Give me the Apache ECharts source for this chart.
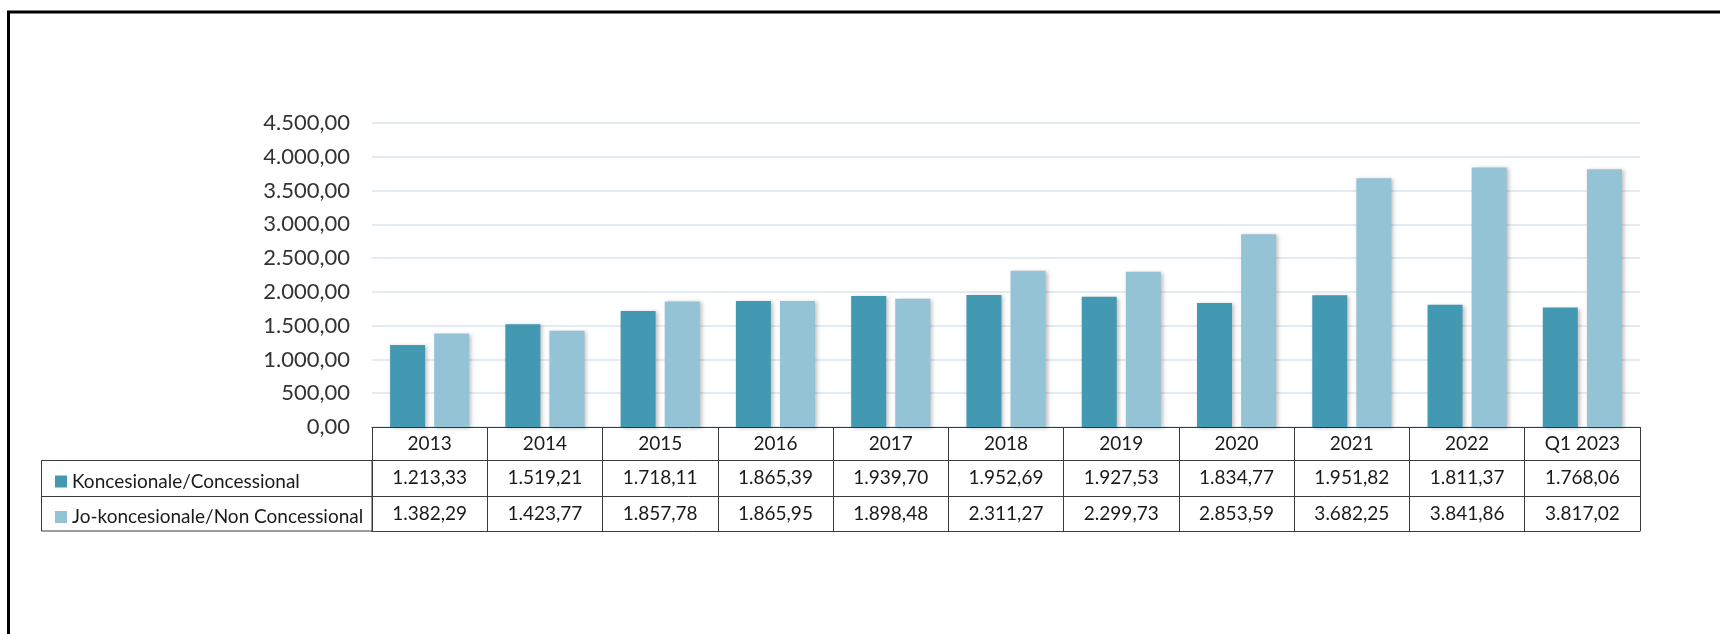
<!DOCTYPE html>
<html>
<head>
<meta charset="utf-8">
<script src="https://cdn.jsdelivr.net/npm/echarts@6/dist/echarts.min.js"></script>
<style>
html,body{margin:0;padding:0;background:#fff;}
#chart{width:1720px;height:634px;}
</style>
</head>
<body>
<div id="chart"></div>
<script>
const categories = ['2013','2014','2015','2016','2017','2018','2019','2020','2021','2022','Q1 2023'];
const seriesNames = ['Koncesionale/Concessional','Jo-koncesionale/Non Concessional'];
const concessional = [1213.33,1519.21,1718.11,1865.39,1939.70,1952.69,1927.53,1834.77,1951.82,1811.37,1768.06];
const nonConcessional = [1382.29,1423.77,1857.78,1865.95,1898.48,2311.27,2299.73,2853.59,3682.25,3841.86,3817.02];
const yTicks = [0,500,1000,1500,2000,2500,3000,3500,4000,4500];

function fmt(v){
  const s = Number(v).toFixed(2);
  let [i,d] = s.split('.');
  i = i.replace(/\B(?=(\d{3})+(?!\d))/g,'.');
  return i + ',' + d;
}

const FONT = 'Lato';
const darkC = '#4399B1';
const lightC = '#93C3D5';
const lineC = '#3a3a3a';
const TFS = 19;

const chart = echarts.init(document.getElementById('chart'));

function tableAxis(data, offset, tickLen, showLabel, margin){
  return {
    type:'category', data:data, position:'bottom', offset:offset, gridIndex:0,
    boundaryGap:true,
    axisLine:{show:true, lineStyle:{color:lineC,width:1}},
    axisTick:{show:tickLen>0, length:tickLen, interval:0, lineStyle:{color:lineC,width:1}},
    axisLabel:{show:showLabel, interval:0, margin:margin, fontFamily:FONT, fontSize:TFS, color:'#1a1a1a'},
    splitLine:{show:false}
  };
}

const option = {
  animation:false,
  backgroundColor:'#fff',
  textStyle:{fontFamily:FONT},
  grid:{left:372, right:80, top:123, bottom:207, containLabel:false},
  legend:{
    orient:'vertical', left:50, top:467, itemWidth:12, itemHeight:12, itemGap:16.5,
    icon:'rect', selectedMode:false,
    textStyle:{fontFamily:FONT, fontSize:TFS, color:'#1a1a1a'},
    data:seriesNames
  },
  xAxis:[
    tableAxis(categories, 0, 33, true, 7),
    tableAxis(concessional.map(fmt), 33, 36, true, 8),
    tableAxis(nonConcessional.map(fmt), 69, 35, true, 8),
    tableAxis(categories, 104, 0, false, 8)
  ],
  yAxis:{
    type:'value', min:yTicks[0], max:yTicks[yTicks.length-1], interval:500,
    axisLine:{show:false}, axisTick:{show:false},
    axisLabel:{formatter:fmt, margin:22, fontFamily:FONT, fontSize:22, color:'#333'},
    splitLine:{lineStyle:{color:'#DAE5F1', width:1.5}}
  },
  series:[
    {name:seriesNames[0], type:'bar', xAxisIndex:0, data:concessional, barWidth:35, barGap:'26%',
     itemStyle:{color:darkC, shadowColor:'rgba(0,0,0,0.25)', shadowBlur:4, shadowOffsetX:2, shadowOffsetY:1}},
    {name:seriesNames[1], type:'bar', xAxisIndex:0, data:nonConcessional, barWidth:35, barGap:'26%',
     itemStyle:{color:lightC, shadowColor:'rgba(0,0,0,0.25)', shadowBlur:4, shadowOffsetX:2, shadowOffsetY:1}}
  ],
  graphic:[
    {type:'rect', shape:{x:8.5, y:12, width:1800, height:800}, style:{fill:null, stroke:'#000', lineWidth:3}, silent:true},
    {type:'rect', shape:{x:41.5, y:460.5, width:330.5, height:70.5}, style:{fill:null, stroke:lineC, lineWidth:1}, silent:true},
    {type:'line', shape:{x1:41.5, y1:496.5, x2:372, y2:496.5}, style:{stroke:lineC, lineWidth:1}, silent:true}
  ]
};
chart.setOption(option);
</script>
</body>
</html>
